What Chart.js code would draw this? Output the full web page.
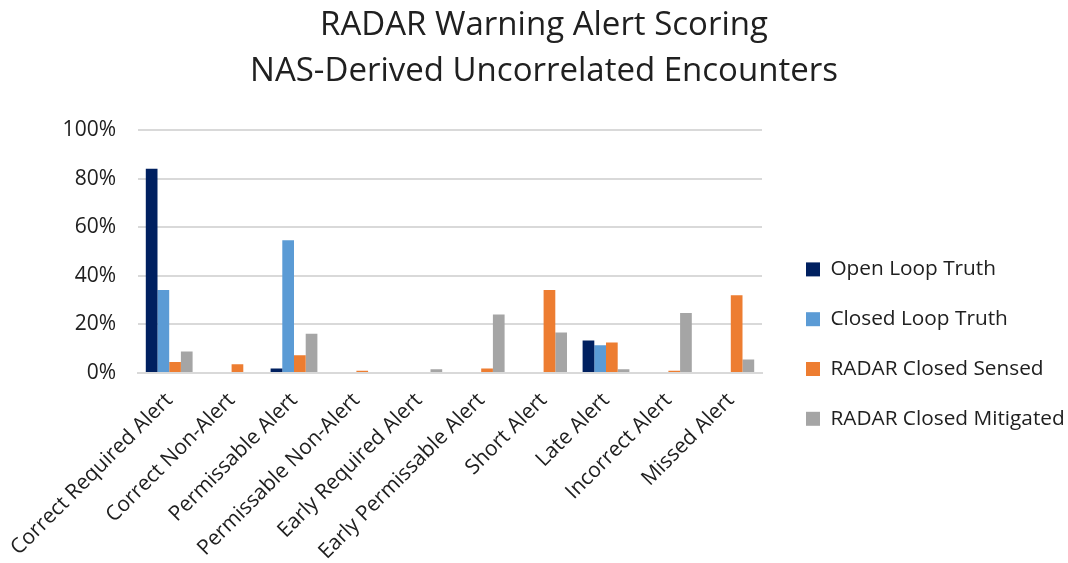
<!DOCTYPE html>
<html>
<head>
<meta charset="utf-8">
<script src="https://cdn.jsdelivr.net/npm/chart.js@4"></script>
<style>
  html, body { margin: 0; padding: 0; background: #fff; }
  #wrap { width: 1068px; height: 563px; }
</style>
</head>
<body>
<div id="wrap"><canvas id="alertChart"></canvas></div>
<script>
// Categorías del eje X
const categories = [
    'Correct Required Alert', 'Correct Non-Alert', 'Permissable Alert',
    'Permissable Non-Alert', 'Early Required Alert', 'Early Permissable Alert',
    'Short Alert', 'Late Alert', 'Incorrect Alert', 'Missed Alert'
];

// Valores (%)
const openLoopTruth     = [84.2, 0, 1.9, 0, 0, 0, 0, 13.4, 0, 0];
const closedLoopTruth   = [34.2, 0, 54.7, 0, 0, 0, 0, 11.4, 0, 0];
const radarClosedSensed = [4.5, 3.6, 7.3, 0.9, 0, 1.9, 34.2, 12.6, 0.9, 32.0];
const radarClosedMitig  = [8.9, 0, 16.2, 0, 1.5, 24.1, 16.7, 1.5, 24.7, 5.6];

const seriesNames = ['Open Loop Truth', 'Closed Loop Truth', 'RADAR Closed Sensed', 'RADAR Closed Mitigated'];
const seriesColors = ['#002060', '#5B9BD5', '#ED7D31', '#A5A5A5'];

const yTicks = [0, 20, 40, 60, 80, 100];

const FONT = '"Open Sans", sans-serif';
const TEXT = '#202020';

// Coloca la leyenda y el título como en el original
const placeBlocks = {
    id: 'placeBlocks',
    afterLayout(chart) {
        const lg = chart.legend;
        const dx = 15, dy = 228;
        lg.left += dx;
        lg.top += dy; lg.bottom += dy;
        lg.right = chart.width;   // sin recorte del texto largo
        lg.width = lg.right - lg.left;

        const tb = chart.titleBlock;
        tb.left += 63; tb.right += 63;
    }
};

const ctx = document.getElementById('alertChart').getContext('2d');
const chart = new Chart(ctx, {
    type: 'bar',
    data: {
        labels: categories,
        datasets: [openLoopTruth, closedLoopTruth, radarClosedSensed, radarClosedMitig].map((d, i) => ({
            label: seriesNames[i],
            data: d,
            backgroundColor: seriesColors[i],
            borderWidth: 0,
            categoryPercentage: 0.75,
            barPercentage: 1.0
        }))
    },
    options: {
        responsive: true,
        maintainAspectRatio: false,
        animation: false,
        layout: { padding: { left: 0, right: 106, top: 2, bottom: 0 } },
        plugins: {
            title: {
                display: true,
                text: ['RADAR Warning Alert Scoring', 'NAS-Derived Uncorrelated Encounters'],
                color: TEXT,
                font: { family: FONT, size: 33, weight: 'normal', lineHeight: 1.4 },
                padding: { top: 0, bottom: 36 }
            },
            legend: {
                position: 'right',
                align: 'start',
                maxWidth: 200,
                labels: {
                    color: TEXT,
                    font: { family: FONT, size: 20.8 },
                    boxWidth: 14,
                    boxHeight: 14,
                    padding: 29
                }
            },
            tooltip: { enabled: false }
        },
        scales: {
            x: {
                grid: { display: false },
                border: { color: '#D9D9D9', width: 2 },
                ticks: {
                    color: TEXT,
                    font: { family: FONT, size: 21 },
                    maxRotation: 45,
                    minRotation: 45,
                    autoSkip: false,
                    padding: 7
                },
                afterFit: axis => { axis.height = 190; axis.paddingLeft = 0; }
            },
            y: {
                min: 0,
                max: 100,
                afterBuildTicks: axis => { axis.ticks = yTicks.map(v => ({ value: v })); },
                afterFit: axis => { axis.width = 138; },
                grid: { color: '#D9D9D9', lineWidth: 2, drawTicks: false },
                border: { display: false },
                ticks: {
                    color: TEXT,
                    font: { family: FONT, size: 21 },
                    padding: 22,
                    callback: v => v + '%'
                }
            }
        }
    },
    plugins: [placeBlocks]
});
</script>
</body>
</html>
